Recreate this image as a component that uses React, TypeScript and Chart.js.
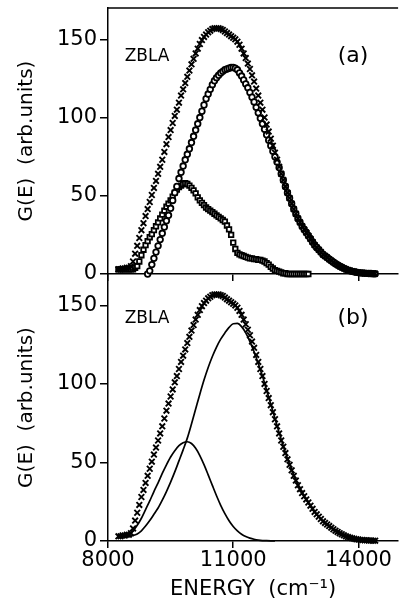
import React, { useEffect, useRef } from 'react';
import { Chart, registerables } from 'chart.js';

Chart.register(...registerables);

const FONT = "'DejaVu Sans', sans-serif";

// Energy grid of the measured points (cm^-1)
const ENERGY_PTS = [
  8250, 8300, 8350, 8400, 8450, 8500, 8550, 8600, 8650, 8700,
  8750, 8800, 8850, 8900, 8950, 9000, 9050, 9100, 9150, 9200,
  9250, 9300, 9350, 9400, 9450, 9500, 9550, 9600, 9650, 9700,
  9750, 9800, 9850, 9900, 9950, 10000, 10050, 10100, 10150, 10200,
  10250, 10300, 10350, 10400, 10450, 10500, 10550, 10600, 10650, 10700,
  10750, 10800, 10850, 10900, 10950, 11000, 11050, 11100, 11150, 11200,
  11250, 11300, 11350, 11400, 11450, 11500, 11550, 11600, 11650, 11700,
  11750, 11800, 11850, 11900, 11950, 12000, 12050, 12100, 12150, 12200,
  12250, 12300, 12350, 12400, 12450, 12500, 12550, 12600, 12650, 12700,
  12750, 12800, 12850, 12900, 12950, 13000, 13050, 13100, 13150, 13200,
  13250, 13300, 13350, 13400, 13450, 13500, 13550, 13600, 13650, 13700,
  13750, 13800, 13850, 13900, 13950, 14000, 14050, 14100, 14150, 14200,
  14250, 14300, 14350, 14400,
];

// crosses: total G(E)
const G_TOTAL = [
  3, 3, 3.5, 3.5, 4, 4, 5, 8, 13, 18,
  23, 28, 32.5, 37, 41.5, 46, 50.5, 55, 59.5, 64,
  68.5, 73, 78, 83, 87.5, 92, 96.5, 101, 105, 109.5,
  114, 118, 122, 126, 130, 134, 137.5, 141, 144, 147,
  149.5, 151.5, 153, 154.5, 155.5, 156.5, 157, 157, 157, 156.5,
  156, 155, 154, 153, 152, 151, 150, 148.5, 146.5, 144,
  141, 138, 134.5, 131, 127, 123, 118.5, 114, 109.5, 105,
  100, 95.5, 91, 86.5, 82, 77.5, 73, 68.5, 64, 60,
  56, 52, 48.5, 45, 41.5, 38.5, 35.5, 33, 30.5, 28.5,
  26.5, 24.5, 22.5, 20.5, 18.5, 17, 15.5, 14, 12.5, 11.5,
  10.5, 9.5, 8.5, 7.5, 6.6, 5.8, 5, 4.3, 3.6, 3,
  2.5, 2.1, 1.7, 1.4, 1.1, 0.9, 0.7, 0.6, 0.5, 0.4,
  0.3, 0.3, 0.2, 0.2,
];

// circles: high-energy component (panel a)
const G_HIGH = [
  null, null, null, null, null, null, null, null, null, null,
  null, null, null, null, 0, 2, 6, 10, 14, 18,
  22, 26, 30, 34, 37.5, 42, 47, 52, 56, 61,
  65, 69, 73, 76.5, 80, 84, 88, 92, 96, 100,
  104, 108, 112, 115, 118, 121, 123.5, 125.5, 127, 128.5,
  129.5, 130.5, 131, 131.5, 132, 132, 131.5, 130.5, 128.5, 126.5,
  124, 121.5, 119, 116, 113, 110, 106.5, 103, 99.5, 96,
  92.5, 89, 85.5, 82, 78.5, 75, 71.5, 68, 64, 60,
  56, 52, 48.5, 45, 41.5, 38.5, 35.5, 33, 30.5, 28.5,
  26.5, 24.5, 22.5, 20.5, 18.5, 17, 15.5, 14, 12.5, 11.5,
  10.5, 9.5, 8.5, 7.5, 6.6, 5.8, 5, 4.3, 3.6, 3,
  2.5, 2.1, 1.7, 1.4, 1.1, 0.9, 0.7, 0.6, 0.5, 0.4,
  0.3, 0.3, 0.2, 0.2,
];

// squares: low-energy component (panel a)
const G_LOW = [
  3, 3, 3, 3, 3, 3, 3, 3, 4, 5,
  8, 12, 15.5, 18.5, 21, 23.5, 25.5, 28, 30.5, 33,
  35.5, 38, 40.5, 43, 45, 47, 49.5, 52, 54, 55.5,
  56.5, 57.5, 58, 57.5, 56.5, 55, 53.5, 51.5, 49, 47,
  45.5, 44, 42.5, 41.5, 40.5, 39.5, 38.5, 37.5, 36.5, 35.5,
  34.5, 33.5, 31, 28.5, 25, 20, 16, 13.5, 12.5, 12,
  11.5, 11, 10.5, 10, 10, 9.5, 9.5, 9, 9, 8.5,
  8, 7, 6, 4.5, 3.5, 2.5, 2, 1.5, 1, 0.5,
  0.5, 0, 0, 0, 0, 0, 0, 0, 0, 0,
  0, 0, null, null, null, null, null, null, null, null,
  null, null, null, null, null, null, null, null, null, null,
  null, null, null, null, null, null, null, null, null, null,
  null, null, null, null,
];

// Energy grid of the fitted curves (panel b)
const ENERGY_FIT = [
  8400, 8500, 8600, 8700, 8800, 8900, 9000, 9100, 9200, 9300,
  9400, 9500, 9600, 9700, 9800, 9900, 10000, 10100, 10200, 10300,
  10400, 10500, 10600, 10700, 10800, 10900, 11000, 11100, 11200, 11300,
  11400, 11500, 11600, 11700, 11800, 11900, 12000, 12100, 12200, 12300,
  12400, 12500, 12600, 12700, 12800, 12900, 13000, 13100, 13200, 13300,
  13400, 13500, 13600, 13700, 13800, 13900, 14000, 14100, 14200, 14300,
];

const FIT_HIGH = [
  2.5, 3, 3.5, 4.5, 6.5, 9.5, 13, 17, 21, 26,
  31.5, 37.5, 44, 51, 58, 65.5, 74.5, 84, 93.5, 102.5,
  110.5, 117.5, 123.5, 128.5, 132.5, 136, 138.3, 138.5, 136.5, 132.5,
  127, 120.5, 113, 105, 96, 87, 78, 69, 60.5, 52.5,
  45.5, 39, 33.5, 28.5, 24.5, 20.5, 17, 14, 11.5, 9.5,
  7.5, 5.8, 4.3, 3, 2.1, 1.4, 0.9, 0.6, 0.4, 0.3,
];

const FIT_LOW = [
  3, 4.5, 6.5, 10, 14.5, 20, 25.5, 31.5, 37, 43,
  48.5, 53.5, 57.5, 60.7, 62.6, 63.2, 62.1, 59, 54.4, 48.6,
  42.1, 35.4, 28.8, 22.7, 17.4, 12.9, 9.2, 6.4, 4.3, 2.8,
  1.8, 1.1, 0.6, 0.3, 0.2, 0.1, 0, null, null, null,
  null, null, null, null, null, null, null, null, null, null,
  null, null, null, null, null, null, null, null, null, null,
];

const X_TICKS = [8000, 11000, 14000];
const X_TICK_LABELS = ['8000', '11000', '14000'];
const Y_TICKS = [0, 50, 100, 150];
const Y_TICK_LABELS = ['0', '50', '100', '150'];

const SAMPLE = 'ZBLA';
const PANEL_TAGS = { a: '(a)', b: '(b)' };
const Y_TITLE = 'G(E)  (arb.units)';
const X_TITLE = 'ENERGY  (cm\u207B\u00B9)';

function pts(xs: number[], ys: (number | null)[]) {
  const out: { x: number; y: number }[] = [];
  xs.forEach((x, i) => {
    const y = ys[i];
    if (y !== null && y !== undefined) out.push({ x, y });
  });
  return out;
}

const panelText = {
  id: 'panelText',
  afterDraw(chart: any, _args: any, opts: any) {
    const { ctx, chartArea, scales } = chart;
    ctx.save();
    if (opts.frameTop) {
      ctx.beginPath();
      ctx.moveTo(chartArea.left, chartArea.top);
      ctx.lineTo(chartArea.right, chartArea.top);
      ctx.lineWidth = 1.5;
      ctx.strokeStyle = '#000';
      ctx.stroke();
    }
    ctx.fillStyle = '#000';
    ctx.textBaseline = 'middle';
    ctx.font = `17px ${FONT}`;
    ctx.textAlign = 'left';
    ctx.fillText(opts.sample, scales.x.getPixelForValue(opts.sampleX), scales.y.getPixelForValue(opts.sampleY));
    ctx.font = `22px ${FONT}`;
    ctx.textAlign = 'center';
    ctx.fillText(opts.tag, scales.x.getPixelForValue(opts.tagX), scales.y.getPixelForValue(opts.tagY));
    ctx.restore();
  },
};

function makeConfig(panel: 'a' | 'b'): any {
  const isB = panel === 'b';
  const datasets: any[] = [
    {
      label: 'G(E)',
      data: pts(ENERGY_PTS, G_TOTAL),
      showLine: false,
      pointStyle: 'crossRot',
      pointRadius: 4,
      pointBorderWidth: 1.9,
      borderColor: '#000',
      backgroundColor: '#000',
      clip: false,
    },
  ];
  if (!isB) {
    datasets.push({
      label: 'high',
      data: pts(ENERGY_PTS, G_HIGH),
      showLine: false,
      pointStyle: 'circle',
      pointRadius: 2.8,
      pointBorderWidth: 1.8,
      borderColor: '#000',
      backgroundColor: '#fff',
      clip: false,
    });
    datasets.push({
      label: 'low',
      data: pts(ENERGY_PTS, G_LOW),
      showLine: false,
      pointStyle: 'rect',
      pointRadius: 3.2,
      pointBorderWidth: 1.8,
      borderColor: '#000',
      backgroundColor: '#fff',
      clip: false,
    });
  } else {
    datasets.push({
      label: 'fit high',
      data: pts(ENERGY_FIT, FIT_HIGH),
      showLine: true,
      pointRadius: 0,
      borderWidth: 1.7,
      borderColor: '#000',
      cubicInterpolationMode: 'monotone',
      clip: false,
    });
    datasets.push({
      label: 'fit low',
      data: pts(ENERGY_FIT, FIT_LOW),
      showLine: true,
      pointRadius: 0,
      borderWidth: 1.7,
      borderColor: '#000',
      cubicInterpolationMode: 'monotone',
      clip: false,
    });
  }

  const axisGrid = (len: number) => ({
    display: true,
    drawOnChartArea: false,
    drawTicks: true,
    tickLength: len,
    color: '#000',
    lineWidth: 1.5,
  });
  const axisBorder = { display: true, color: '#000', width: 1.5 };

  return {
    type: 'scatter',
    data: { datasets },
    options: {
      animation: false,
      responsive: false,
      devicePixelRatio: 1,
      events: [],
      layout: { padding: { top: isB ? 14 : 8, left: 0, right: 0, bottom: 0 } },
      plugins: {
        legend: { display: false },
        tooltip: { enabled: false },
        panelText: {
          frameTop: !isB,
          sample: SAMPLE,
          sampleX: 8400,
          sampleY: isB ? 141.5 : 139,
          tag: PANEL_TAGS[panel],
          tagX: 13870,
          tagY: isB ? 141.7 : 139.3,
        },
      },
      scales: {
        x: {
          type: 'linear',
          min: 8000,
          max: 14950,
          afterBuildTicks: (s: any) => {
            s.ticks = X_TICKS.map((v) => ({ value: v }));
          },
          afterFit: (s: any) => {
            s.height = isB ? 61 : 18;
            s.paddingLeft = 0;
            s.paddingRight = 0;
          },
          grid: axisGrid(7),
          border: axisBorder,
          ticks: {
            display: isB,
            color: '#000',
            font: { family: FONT, size: 21 },
            padding: 0,
            maxRotation: 0,
            autoSkip: false,
            callback: (v: number) => X_TICK_LABELS[X_TICKS.indexOf(v)] ?? '',
          },
          title: {
            display: isB,
            text: X_TITLE,
            color: '#000',
            font: { family: FONT, size: 21 },
            padding: { top: 0, bottom: 0 },
          },
        },
        y: {
          type: 'linear',
          min: 0,
          max: 170,
          afterBuildTicks: (s: any) => {
            s.ticks = Y_TICKS.map((v) => ({ value: v }));
          },
          afterFit: (s: any) => {
            s.width = 108;
            s.paddingTop = 0;
            s.paddingBottom = 0;
          },
          grid: axisGrid(8),
          border: axisBorder,
          ticks: {
            color: '#000',
            font: { family: FONT, size: 21 },
            padding: 3,
            autoSkip: false,
            callback: (v: number) => Y_TICK_LABELS[Y_TICKS.indexOf(v)] ?? '',
          },
          title: {
            display: true,
            text: Y_TITLE,
            color: '#000',
            font: { family: FONT, size: 20 },
            padding: { top: 15, bottom: 0 },
          },
        },
      },
    },
    plugins: [panelText],
  };
}

export default function App() {
  const topRef = useRef<HTMLCanvasElement>(null);
  const botRef = useRef<HTMLCanvasElement>(null);

  useEffect(() => {
    const a = new Chart(topRef.current as HTMLCanvasElement, makeConfig('a'));
    const b = new Chart(botRef.current as HTMLCanvasElement, makeConfig('b'));
    return () => {
      a.destroy();
      b.destroy();
    };
  }, []);

  return (
    <div style={{ position: 'absolute', left: 0, top: 0, width: 404, height: 602, background: '#fff', overflow: 'hidden' }}>
      <canvas
        ref={topRef}
        width={404}
        height={292}
        style={{ position: 'absolute', left: 0, top: 0, width: 404, height: 292 }}
      />
      <canvas
        ref={botRef}
        width={404}
        height={342}
        style={{ position: 'absolute', left: 0, top: 260, width: 404, height: 342 }}
      />
    </div>
  );
}
